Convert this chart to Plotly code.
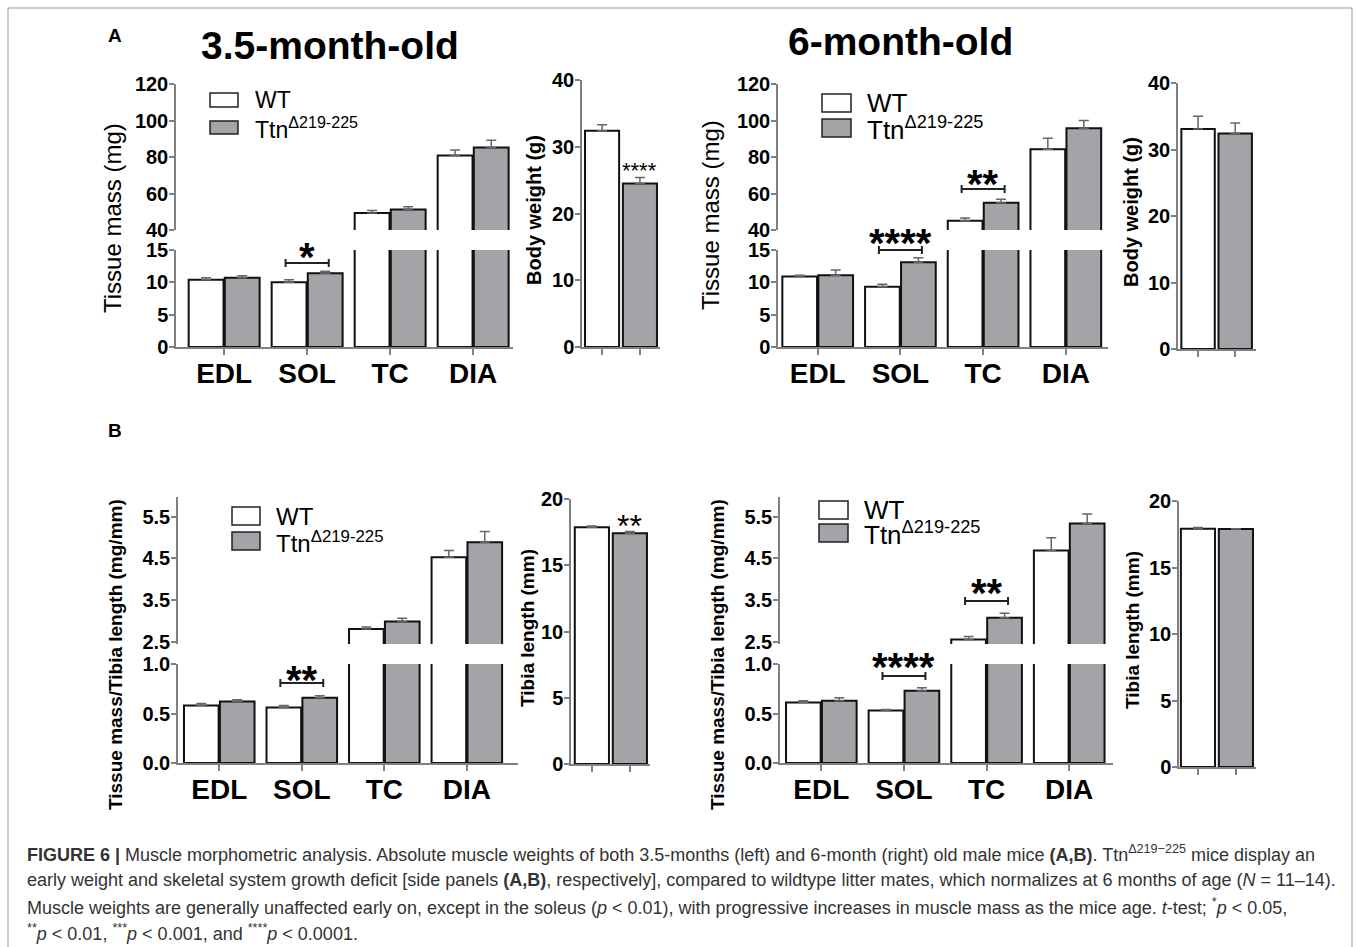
import plotly.graph_objects as go

W, H = 1357, 947
FONT = "Liberation Sans, Arial, Helvetica, sans-serif"
FILL_TTN = "#a3a3a8"
FILL_WT = "#ffffff"
AXIS_COLOR = "#808080"
ERR_COLOR = "#666666"

# ---------------- data ----------------
categories = ["EDL", "SOL", "TC", "DIA"]
groups = ["WT", "Ttn"]

# Panel A: tissue mass (mg)
mass35_wt = [10.4, 10.0, 49.3, 80.8]
mass35_wt_err = [0.3, 0.4, 1.4, 3.1]
mass35_ttn = [10.7, 11.4, 51.3, 85.2]
mass35_ttn_err = [0.3, 0.3, 1.5, 4.0]
mass6_wt = [10.9, 9.3, 45.1, 84.3]
mass6_wt_err = [0.2, 0.4, 1.5, 6.0]
mass6_ttn = [11.1, 13.1, 54.9, 95.8]
mass6_ttn_err = [0.8, 0.7, 2.0, 4.2]

# Panel A side: body weight (g) [WT, Ttn]
bw35 = [32.4, 24.5]
bw35_err = [0.9, 0.9]
bw6 = [33.1, 32.4]
bw6_err = [1.9, 1.6]

# Panel B: tissue mass / tibia length (mg/mm)
ratio35_wt = [0.58, 0.56, 2.80, 4.53]
ratio35_wt_err = [0.02, 0.02, 0.05, 0.16]
ratio35_ttn = [0.62, 0.66, 2.98, 4.89]
ratio35_ttn_err = [0.02, 0.02, 0.08, 0.26]
ratio6_wt = [0.61, 0.53, 2.55, 4.69]
ratio6_wt_err = [0.02, 0.01, 0.07, 0.31]
ratio6_ttn = [0.63, 0.73, 3.07, 5.34]
ratio6_ttn_err = [0.03, 0.03, 0.11, 0.23]

# Panel B side: tibia length (mm) [WT, Ttn]
tibia35 = [17.86, 17.41]
tibia35_err = [0.10, 0.13]
tibia6 = [17.92, 17.90]
tibia6_err = [0.08, 0.02]

mass_ticks_low = [0, 5, 10, 15]
mass_ticks_high = [40, 60, 80, 100, 120]
ratio_ticks_low = [0.0, 0.5, 1.0]
ratio_ticks_high = [2.5, 3.5, 4.5, 5.5]
bw_ticks = [0, 10, 20, 30, 40]
tibia_ticks = [0, 5, 10, 15, 20]


def fx(px):
    return px / W


def fy(py):
    return 1 - py / H


def axkey(prefix, n):
    return prefix if n == 1 else f"{prefix}{n}"


fig = go.Figure()
layout = dict(
    template="none",
    width=W, height=H, autosize=False,
    margin=dict(l=0, r=0, t=0, b=0, pad=0, autoexpand=False),
    paper_bgcolor="white", plot_bgcolor="white",
    barmode="group", bargap=0.13, bargroupgap=0.035,
    showlegend=False, font=dict(family=FONT, color="black"),
)

TICKFONT = dict(family=FONT, size=20, color="black", weight="bold")


def yaxis(n, top, bottom, rng, ticks, fmt=None):
    d = dict(domain=[fy(bottom), fy(top)], range=rng, anchor=axkey("x", n),
             automargin=False, ticklabelstandoff=-3,
             tickvals=ticks, showline=True, linecolor=AXIS_COLOR, linewidth=1.5,
             ticks="outside", ticklen=5, tickwidth=1.5, tickcolor=AXIS_COLOR,
             tickfont=TICKFONT, showgrid=False, zeroline=False, fixedrange=True)
    if fmt:
        d["tickformat"] = fmt
    layout[axkey("yaxis", n)] = d


def xaxis(n, left, right, rng, ncat, labels=None, visible=True):
    d = dict(domain=[fx(left), fx(right)], range=rng, anchor=axkey("y", n),
             automargin=False,
             tickvals=list(range(ncat)), showgrid=False, zeroline=False, fixedrange=True)
    if visible:
        d.update(showline=True, linecolor=AXIS_COLOR, linewidth=1.5, ticks="outside",
                 ticklen=6, tickwidth=1.5, tickcolor=AXIS_COLOR)
        if labels:
            d.update(ticktext=labels, ticklabelstandoff=-5,
                     tickfont=dict(family=FONT, size=28, color="black", weight="bold"))
        else:
            d.update(showticklabels=False)
    else:
        d.update(visible=False)
    layout[axkey("xaxis", n)] = d


def bars(n, vals, errs, fill):
    fig.add_trace(go.Bar(
        x=list(range(len(vals))), y=vals, xaxis=axkey("x", n), yaxis=axkey("y", n),
        marker=dict(color=fill, line=dict(color="#111111", width=2)),
        error_y=dict(type="data", array=errs, arrayminus=[0] * len(errs), symmetric=False,
                     color=ERR_COLOR, thickness=1.5, width=5),
        hoverinfo="y"))


def side(n, vals, errs):
    fig.add_trace(go.Bar(
        x=list(range(len(vals))), y=vals, xaxis=axkey("x", n), yaxis=axkey("y", n),
        width=0.9,
        marker=dict(color=[FILL_WT, FILL_TTN], line=dict(color="#111111", width=2)),
        error_y=dict(type="data", array=errs, arrayminus=[0] * len(errs), symmetric=False,
                     color=ERR_COLOR, thickness=1.5, width=5),
        hoverinfo="y"))


def broken_chart(n_low, n_high, xl, xr, xrng, low, high, wt, wt_e, tt, tt_e):
    (lt, lb, lrng, lticks, lfmt) = low
    (ht, hb, hrng, hticks, hfmt) = high
    xaxis(n_low, xl, xr, xrng, len(categories), labels=categories)
    xaxis(n_high, xl, xr, xrng, len(categories), visible=False)
    yaxis(n_low, lt, lb, lrng, lticks, lfmt)
    yaxis(n_high, ht, hb, hrng, hticks, hfmt)
    for n in (n_low, n_high):
        bars(n, wt, wt_e, FILL_WT)
        bars(n, tt, tt_e, FILL_TTN)


# Panel A, 3.5 months
broken_chart(1, 2, 176, 513, [-0.58, 3.48],
             (250, 347, [0, 15], mass_ticks_low, None),
             (84, 230, [40, 120], mass_ticks_high, None),
             mass35_wt, mass35_wt_err, mass35_ttn, mass35_ttn_err)
xaxis(3, 582, 660, [-0.53, 1.53], 2)
yaxis(3, 80, 347, [0, 40], bw_ticks)
side(3, bw35, bw35_err)

# Panel A, 6 months
broken_chart(4, 5, 778, 1108, [-0.48, 3.51],
             (250, 347, [0, 15], mass_ticks_low, None),
             (84, 230, [40, 120], mass_ticks_high, None),
             mass6_wt, mass6_wt_err, mass6_ttn, mass6_ttn_err)
xaxis(6, 1178, 1256, [-0.54, 1.56], 2)
yaxis(6, 83, 349, [0, 40], bw_ticks)
side(6, bw6, bw6_err)

# Panel B, 3.5 months
broken_chart(7, 8, 178, 518, [-0.5, 3.62],
             (664, 763, [0, 1.0], ratio_ticks_low, ".1f"),
             (497, 644, [2.44, 5.98], ratio_ticks_high, ".1f"),
             ratio35_wt, ratio35_wt_err, ratio35_ttn, ratio35_ttn_err)
xaxis(9, 571, 650, [-0.55, 1.53], 2)
yaxis(9, 499, 764, [0, 20], tibia_ticks)
side(9, tibia35, tibia35_err)

# Panel B, 6 months
broken_chart(10, 11, 780, 1113, [-0.5, 3.53],
             (664, 763, [0, 1.0], ratio_ticks_low, ".1f"),
             (497, 644, [2.44, 5.98], ratio_ticks_high, ".1f"),
             ratio6_wt, ratio6_wt_err, ratio6_ttn, ratio6_ttn_err)
xaxis(12, 1179, 1256, [-0.5, 1.53], 2)
yaxis(12, 501, 767, [0, 20], tibia_ticks)
side(12, tibia6, tibia6_err)

annotations = []
shapes = []


def text(x, y, s, size, bold=False, angle=0, xanchor="center", yanchor="middle", color="black"):
    annotations.append(dict(x=fx(x), y=fy(y), xref="paper", yref="paper", text=s,
                            showarrow=False, textangle=angle, xanchor=xanchor, yanchor=yanchor,
                            font=dict(family=FONT, size=size, color=color,
                                      weight="bold" if bold else "normal")))


# panel letters and titles
text(115, 36, "A", 19, bold=True)
text(115, 431, "B", 19, bold=True)
text(330, 45, "3.5-month-old", 39, bold=True)
text(900, 42, "6-month-old", 39, bold=True)

# axis titles
text(113, 218, "Tissue mass (mg)", 24, angle=-90)
text(710, 215, "Tissue mass (mg)", 24, angle=-90)
text(534, 210, "Body weight (g)", 20, bold=True, angle=-90)
text(1131, 212, "Body weight (g)", 20, bold=True, angle=-90)
text(115, 655, "Tissue mass/Tibia length (mg/mm)", 19, bold=True, angle=-90)
text(717, 655, "Tissue mass/Tibia length (mg/mm)", 19, bold=True, angle=-90)
text(527, 628, "Tibia length (mm)", 19, bold=True, angle=-90)
text(1132, 630, "Tibia length (mm)", 19, bold=True, angle=-90)

# legends (box positions in pixels, labels from groups)
TTN_LABEL = "Ttn<sup>Δ219-225</sup>"
legends = [
    # (box_left, box_right, wt_top, wt_bottom, ttn_top, ttn_bottom, text_x, size)
    (210, 238, 93, 107, 121, 134, 253, 23),
    (822, 851, 94, 112, 119, 137, 865, 26),
    (232, 260, 507, 525, 532, 550, 274, 24),
    (819, 848, 501, 519, 524, 542, 862, 26),
]
for (bl, br, wt0, wt1, tt0, tt1, tx, sz) in legends:
    shapes.append(dict(type="rect", xref="paper", yref="paper", x0=fx(bl), x1=fx(br),
                       y0=fy(wt1), y1=fy(wt0), fillcolor=FILL_WT,
                       line=dict(color="#222222", width=1.5)))
    shapes.append(dict(type="rect", xref="paper", yref="paper", x0=fx(bl), x1=fx(br),
                       y0=fy(tt1), y1=fy(tt0), fillcolor=FILL_TTN,
                       line=dict(color="#222222", width=1.5)))
    text(tx, (wt0 + wt1) / 2, groups[0], sz, xanchor="left")
    text(tx, (tt0 + tt1) / 2 + 0.03 * sz, TTN_LABEL, sz, xanchor="left")

# significance brackets (x from category index on the data axis, y in pixels)
brackets = [
    # (xaxis n, category index, bracket y px, stars, star y px, star size)
    (1, 1, 263, "*", 252, 40),
    (4, 1, 250, "****", 238, 40),
    (4, 2, 189, "**", 179, 40),
    (7, 1, 683, "**", 675, 40),
    (10, 1, 676, "****", 662, 40),
    (10, 2, 601, "**", 588, 40),
]
HALF = 0.26
CAP = 4
for (n, ci, by, stars, sy, ssz) in brackets:
    xr = axkey("x", n)
    for (x0, x1, y0, y1) in [(ci - HALF, ci + HALF, by, by),
                             (ci - HALF, ci - HALF, by - CAP, by + CAP),
                             (ci + HALF, ci + HALF, by - CAP, by + CAP)]:
        shapes.append(dict(type="line", xref=xr, yref="paper", x0=x0, x1=x1,
                           y0=fy(y0), y1=fy(y1), line=dict(color="#222222", width=2)))
    annotations.append(dict(x=ci, y=fy(sy + 0.12 * ssz), xref=xr, yref="paper", text=stars,
                            showarrow=False, xanchor="center", yanchor="middle",
                            font=dict(family=FONT, size=ssz, color="black", weight="bold")))

# side-panel stars
side_stars = [
    (3, 1, "****", 167, 22),
    (9, 1, "**", 521, 32),
]
for (n, ci, stars, sy, ssz) in side_stars:
    annotations.append(dict(x=ci, y=fy(sy + 0.15 * ssz), xref=axkey("x", n), yref="paper",
                            text=stars, showarrow=False, xanchor="center", yanchor="middle",
                            font=dict(family=FONT, size=ssz, color="black")))

# caption
CAP_COLOR = "#333333"
caption_lines = [
    "<b>FIGURE 6 |</b> Muscle morphometric analysis. Absolute muscle weights of both 3.5-months (left) "
    "and 6-month (right) old male mice <b>(A,B)</b>. Ttn<sup>Δ219−225</sup> mice display an",
    "early weight and skeletal system growth deficit [side panels <b>(A,B)</b>, respectively], compared "
    "to wildtype litter mates, which normalizes at 6 months of age (<i>N</i> = 11–14).",
    "Muscle weights are generally unaffected early on, except in the soleus (<i>p</i> &lt; 0.01), with "
    "progressive increases in muscle mass as the mice age. <i>t</i>-test; <sup>*</sup><i>p</i> &lt; 0.05,",
    "<sup>**</sup><i>p</i> &lt; 0.01, <sup>***</sup><i>p</i> &lt; 0.001, and <sup>****</sup><i>p</i> &lt; 0.0001.",
]
caption_y = [853, 880, 906, 932]
for s, y in zip(caption_lines, caption_y):
    text(25, y, s, 18, xanchor="left", color=CAP_COLOR)

# outer frame
shapes.append(dict(type="rect", xref="paper", yref="paper", x0=fx(8), x1=fx(1352),
                   y0=fy(952), y1=fy(8), line=dict(color="#999999", width=1)))

layout["annotations"] = annotations
layout["shapes"] = shapes
fig.update_layout(**layout)
fig.write_html(
    "out.html",
    config={"responsive": False, "displayModeBar": False},
    post_script="document.body.style.margin='0px';document.body.style.padding='0px';"
                "document.documentElement.style.overflow='hidden';",
)
